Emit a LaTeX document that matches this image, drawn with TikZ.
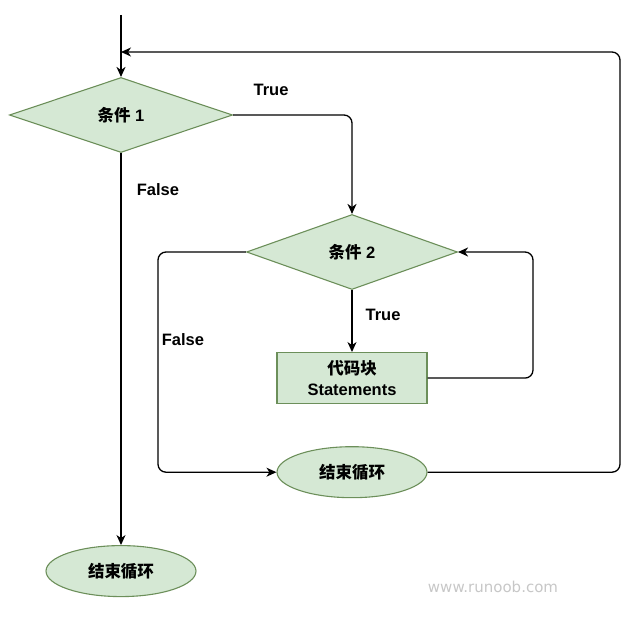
\documentclass[tikz,border=0pt]{standalone}
\usepackage{fontspec}
\setmainfont{Liberation Sans}
\newfontfamily\cjk{Noto Sans CJK SC}
\newfontfamily\wmfont{DejaVu Sans}
\usetikzlibrary{shapes.geometric, positioning, arrows.meta}

\definecolor{boxfill}{HTML}{D5E8D4}
\definecolor{boxline}{HTML}{6C8F5A}

\tikzset{
	base/.style={draw=boxline, fill=boxfill, line width=1.1pt, inner sep=0pt,
		font=\fontsize{16.5}{21}\selectfont\bfseries, align=center},
	cond/.style={base, diamond, minimum height=75pt},
	stmt/.style={base, rectangle, minimum width=150pt, minimum height=51pt},
	stop/.style={base, ellipse, minimum width=150pt, minimum height=51pt},
	lbl/.style={font=\fontsize{16.5}{19}\selectfont\bfseries},
	flow/.style={line width=1.3pt, rounded corners=8pt},
}

\begin{document}
\begin{tikzpicture}[x=1pt, y=-1pt, >={Stealth[length=10pt, width=9pt, inset=3pt]}]
	\useasboundingbox (0,0) rectangle (641,620);

	\node[cond, minimum width=223pt] (c1) at (121,115) {{\cjk\bfseries 条件} 1};
	\node[cond, minimum width=211pt] (c2) at (352,252) {{\cjk\bfseries 条件} 2};
	\node[stmt, below=62pt of c2] (body) {{\cjk\bfseries 代码块}\\Statements};
	\node[stop, below=42pt of body] (end2) {\cjk\bfseries 结束循环};
	\node[stop, below=392pt of c1] (end1) {\cjk\bfseries 结束循环};

	\coordinate (start) at (121,15);
	\coordinate (back) at (121,52);
	\coordinate (outer) at (620,52);
	\coordinate (falsex) at (158,0);
	\coordinate (loopx) at (533,0);

	\draw[flow, ->] (start) -- (c1.north);
	\draw[flow, ->] (c1.east) -| (c2.north);
	\draw[flow, ->] (c1.south) -- (end1.north);
	\draw[flow, ->] (c2.south) -- (body.north);
	\draw[flow, ->] (body.east) -- (body.east -| loopx) |- (c2.east);
	\draw[flow, ->] (c2.west) -- (c2.west -| falsex) |- (end2.west);
	\draw[flow, ->] (end2.east) -| (outer) -- (back);

	\node[lbl] (t1) at (271,90) {True};
	\node[lbl] (f1) at (158,190) {False};
	\node[lbl] (t2) at (383,315) {True};
	\node[lbl] (f2) at (183,340) {False};

	\node[font=\wmfont\fontsize{15}{18}\selectfont, text=black!22] (mark) at (493,587) {www.runoob.com};
\end{tikzpicture}
\end{document}
